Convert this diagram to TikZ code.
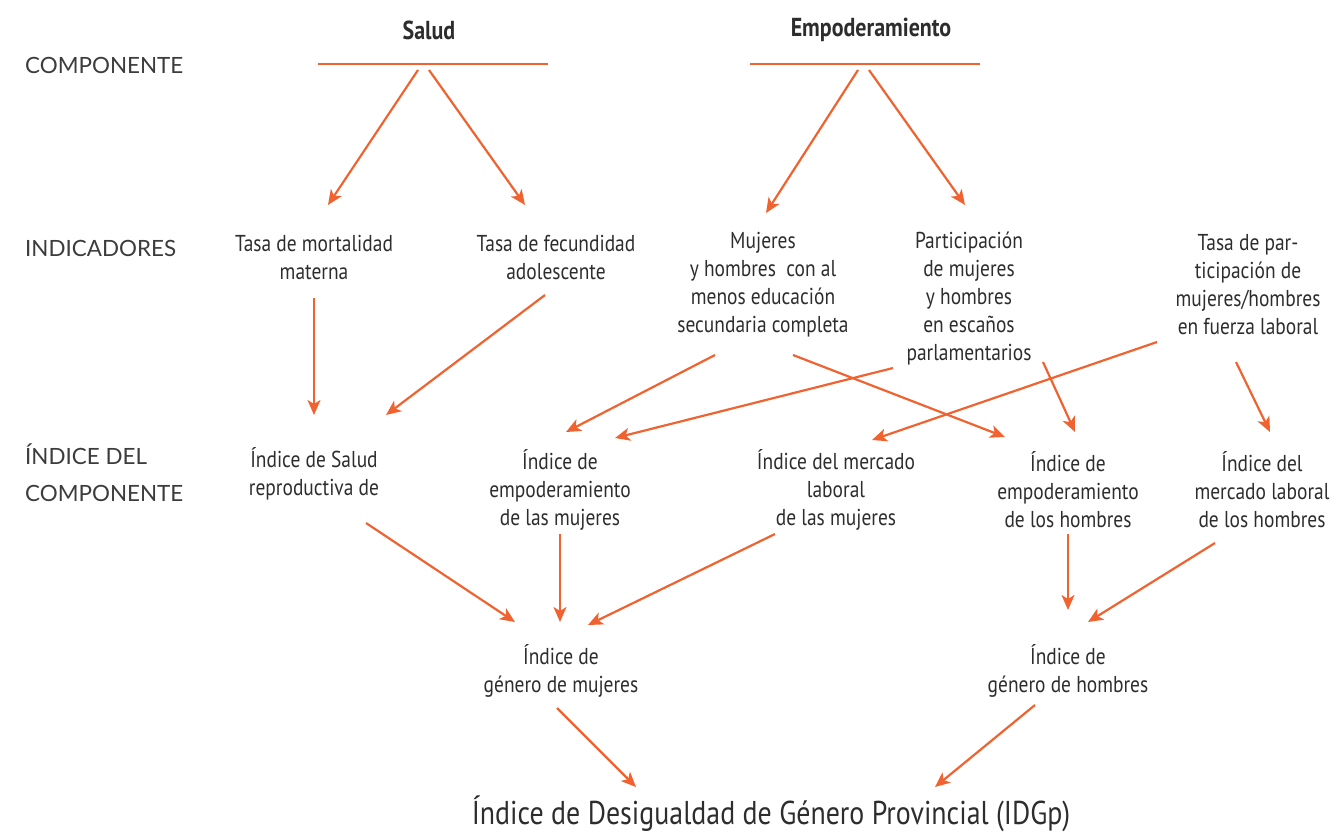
\documentclass[tikz,border=0pt]{standalone}
\usepackage{fontspec}
\setmainfont{PT Sans}[FakeStretch=0.845]
\newfontfamily\lblfont{Lato}
\usetikzlibrary{arrows.meta}
\definecolor{org}{RGB}{240,99,48}
\definecolor{txt}{RGB}{45,45,45}
\definecolor{ltxt}{RGB}{60,60,60}
\begin{document}
\begin{tikzpicture}[x=1pt,y=-1pt,
 arr/.style={draw=org, line width=2.2pt, -{Stealth[length=15pt,width=13pt,inset=4pt]}},
 bar/.style={draw=org, line width=1.8pt},
 lbl/.style={font=\lblfont\fontsize{22.4}{37}\selectfont, text=ltxt, anchor=west, align=left, inner sep=0},
 box/.style={font=\fontsize{23}{28}\selectfont, text=txt, align=center, inner sep=0},
 head/.style={font=\bfseries\fontsize{26}{28}\selectfont, text=txt, inner sep=0},
 ]
\useasboundingbox (0,0) rectangle (1331,833);
% left labels
\node[lbl] (lc) at (25,65) {COMPONENTE};
\node[lbl] (li) at (25,248) {INDICADORES};
\node[lbl] (lx) at (25,473) {ÍNDICE DEL\\COMPONENTE};
% heads
\node[head] (salud) at (429,30) {Salud};
\node[head] (emp) at (871,30) {Empoderamiento};
\draw[bar] ([shift={(-111,34)}]salud.center) -- ([shift={(119,34)}]salud.center);
\draw[bar] ([shift={(-121,34)}]emp.center) -- ([shift={(109,34)}]emp.center);
% indicators
\node[box] (tm) at (314,257) {Tasa de mortalidad\\materna};
\node[box] (tf) at (556,257) {Tasa de fecundidad\\adolescente};
\node[box] (mh) at (763,285) {Mujeres\\y hombres\ \ con al\\menos educación\\secundaria completa};
\node[box] (pm) at (969,299) {Participación\\de mujeres\\y hombres\\en escaños\\parlamentarios};
\node[box] (tp) at (1248,285) {Tasa de par-\\ticipación de\\mujeres/hombres\\en fuerza laboral};
% component indices
\node[box] (isr) at (314,474) {Índice de Salud\\reproductiva de};
\node[box] (iem) at (560,490) {Índice de\\empoderamiento\\de las mujeres};
\node[box] (iml) at (836,490) {Índice del mercado\\laboral\\de las mujeres};
\node[box] (ieh) at (1068,490) {Índice de\\empoderamiento\\de los hombres};
\node[box] (imh) at (1262,490) {Índice del\\mercado laboral\\de los hombres};
% gender indices
\node[box] (igm) at (561,671) {Índice de\\género de mujeres};
\node[box] (igh) at (1068,671) {Índice de\\género de hombres};
\node[box, font=\fontsize{33}{36}\selectfont] (idg) at (771,814) {Índice de Desigualdad de Género Provincial (IDGp)};
% arrows
\draw[arr] ([shift={(-11,40)}]salud.center) -- ([shift={(14,-52)}]tm.center);
\draw[arr] ([shift={(0,40)}]salud.center) -- ([shift={(-31,-52)}]tf.center);
\draw[arr] ([shift={(-13,40)}]emp.center) -- ([shift={(3,-72)}]mh.center);
\draw[arr] ([shift={(-2,40)}]emp.center) -- ([shift={(-4,-94)}]pm.center);
\draw[arr] ([shift={(0,41)}]tm.center) -- ([shift={(0,-59)}]isr.center);
\draw[arr] ([shift={(-11,38)}]tf.center) -- ([shift={(72,-59)}]isr.center);
\draw[arr] ([shift={(-48,70)}]mh.center) -- ([shift={(6,-58)}]iem.center);
\draw[arr] ([shift={(-76,69)}]pm.center) -- ([shift={(55,-52)}]iem.center);
\draw[arr] ([shift={(30,70)}]mh.center) -- ([shift={(-63,-53)}]ieh.center);
\draw[arr] ([shift={(74,63)}]pm.center) -- ([shift={(7,-58)}]ieh.center);
\draw[arr] ([shift={(-91,57)}]tp.center) -- ([shift={(36,-50)}]iml.center);
\draw[arr] ([shift={(-12,77)}]tp.center) -- ([shift={(8,-58)}]imh.center);
\draw[arr] ([shift={(52,49)}]isr.center) -- ([shift={(-46,-49)}]igm.center);
\draw[arr] ([shift={(0,44)}]iem.center) -- ([shift={(-1,-49)}]igm.center);
\draw[arr] ([shift={(-61,44)}]iml.center) -- ([shift={(27,-46)}]igm.center);
\draw[arr] ([shift={(0,44)}]ieh.center) -- ([shift={(0,-61)}]igh.center);
\draw[arr] ([shift={(-47,53)}]imh.center) -- ([shift={(20,-49)}]igh.center);
\draw[arr] ([shift={(-4,37)}]igm.center) -- ([shift={(-135,-27)}]idg.center);
\draw[arr] ([shift={(-33,34)}]igh.center) -- ([shift={(164,-27)}]idg.center);
\end{tikzpicture}
\end{document}
